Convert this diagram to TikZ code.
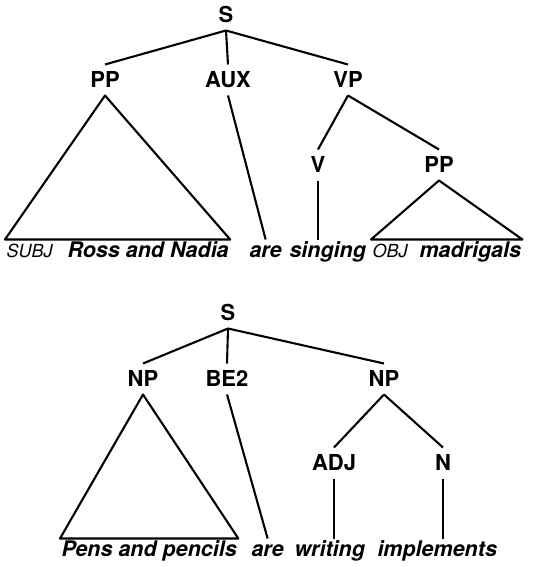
\documentclass[tikz,border=0pt]{standalone}
\usepackage{fontspec}
\setmainfont{TeX Gyre Heros}
\tikzset{edge/.style={line width=2.1pt, line join=round}}
\tikzset{cat/.style={font=\bfseries\fontsize{22}{22}\selectfont, inner sep=0pt, outer sep=8pt, text height=15pt, text depth=0pt}}
\tikzset{word/.style={font=\bfseries\itshape\fontsize{21.5}{21.5}\selectfont, inner sep=0pt, outer sep=1.5pt, text height=16pt, text depth=0pt, anchor=base west}}
\newcommand{\rolemark}[1]{{\mdseries\fontsize{18}{18}\selectfont #1}}

\begin{document}
\begin{tikzpicture}[x=1pt, y=-1pt]%{{{
        \useasboundingbox (0,0) rectangle (553,567);

        % upper tree
        \node[cat] (Sa) at (226, 15) {S};
        \node[cat] (Pa) at (105, 80) {PP};
        \node[cat] (Xa) at (228, 80) {AUX};
        \node[cat] (Va) at (348, 80) {VP};
        \node[cat] (Vb) at (318, 165) {V};
        \node[cat] (Pb) at (439, 165) {PP};

        \node[word] (Wa) at (5, 257) {\rolemark{SUBJ}\hspace{15pt}Ross and Nadia};
        \node[word] (Wb) at (248, 257) {are};
        \node[word] (Wc) at (288, 257) {singing};
        \node[word] (Wd) at (371, 257) {\rolemark{OBJ}\hspace{12pt}madrigals};

        \draw [edge] (Sa.south) -- (Pa.north);
        \draw [edge] (Sa.south) -- (Xa.north);
        \draw [edge] (Sa.south) -- (Va.north);
        \draw [edge] (Pa.south) -- (Wa.north west) -- (Wa.north east) -- cycle;
        \draw [edge] (Xa.south) -- (Wb.north);
        \draw [edge] (Va.south) -- (Vb.north);
        \draw [edge] (Va.south) -- (Pb.north);
        \draw [edge] (Vb.south) -- (Vb.south |- Wc.north);
        \draw [edge] (Pb.south) -- (Wd.north west) -- (Wd.north east) -- cycle;

        % lower tree
        \node[cat] (S1) at (228, 313) {S};
        \node[cat] (N1) at (143, 379) {NP};
        \node[cat] (B1) at (227, 379) {BE2};
        \node[cat] (N2) at (384, 379) {NP};
        \node[cat] (A1) at (334, 463) {ADJ};
        \node[cat] (N3) at (443, 463) {N};

        \node[word] (W1) at (60, 556) {Pens and pencils};
        \node[word] (W2) at (250, 556) {are};
        \node[word] (W3) at (293, 556) {writing};
        \node[word] (W4) at (376, 556) {implements};

        \draw [edge] (S1.south) -- (N1.north);
        \draw [edge] (S1.south) -- (B1.north);
        \draw [edge] (S1.south) -- (N2.north);
        \draw [edge] (N1.south) -- (W1.north west) -- (W1.north east) -- cycle;
        \draw [edge] (B1.south) -- (W2.north);
        \draw [edge] (N2.south) -- (A1.north);
        \draw [edge] (N2.south) -- (N3.north);
        \draw [edge] (A1.south) -- (A1.south |- W3.north);
        \draw [edge] (N3.south) -- (N3.south |- W4.north);
    \end{tikzpicture}
\end{document}
